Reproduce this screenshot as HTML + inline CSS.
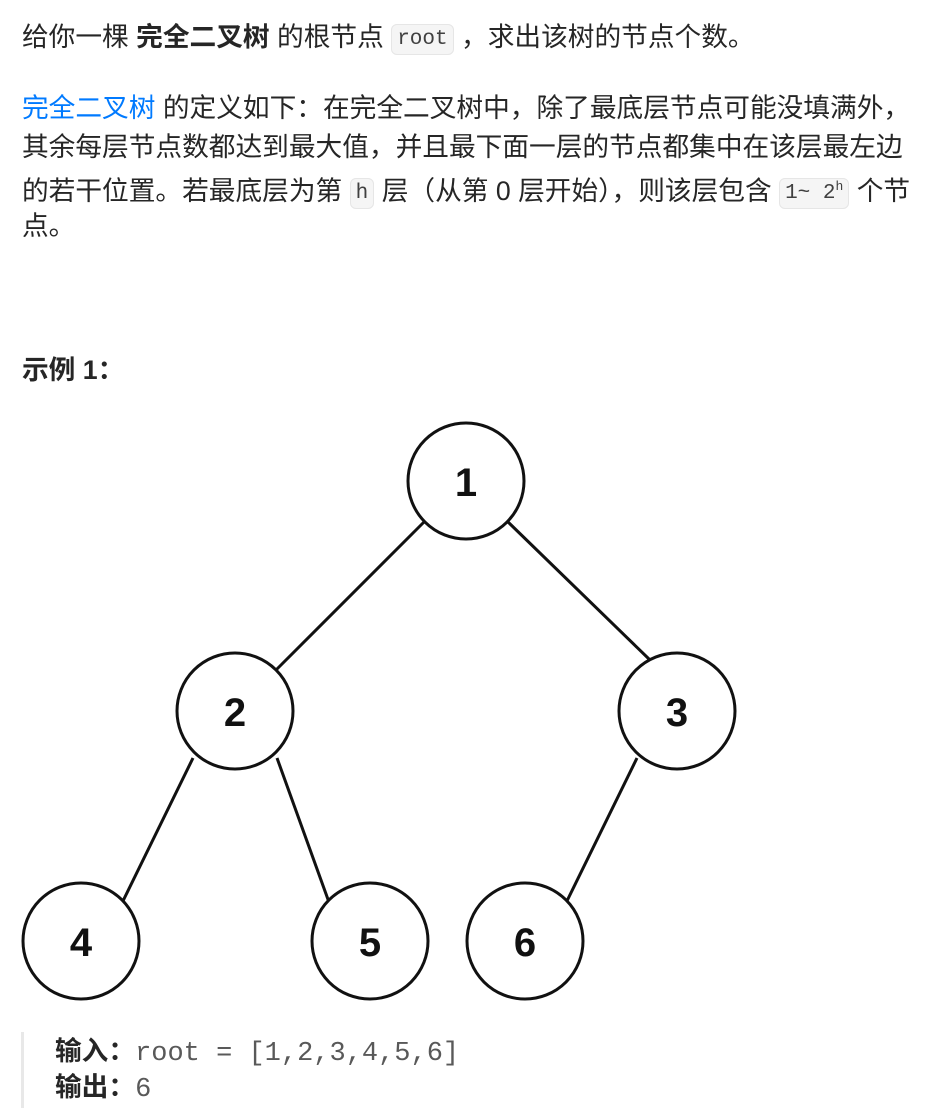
<!DOCTYPE html>
<html><head><meta charset="utf-8"><style>
body{margin:0;width:947px;height:1115px;background:#fff;position:relative;font-family:"Liberation Sans","Noto Sans CJK SC",sans-serif;color:#262626;font-size:26.7px;overflow:hidden}
.l{position:absolute;left:22px;white-space:nowrap;line-height:40px;height:40px}
code{font-family:"Liberation Mono",monospace;font-size:21px;background:#f5f5f5;border:1px solid #e6e6e6;border-radius:6px;padding:3px 5px;color:#404040;vertical-align:2px}
b{font-weight:bold;color:#262626}
.blue{color:#007aff}
</style></head><body>
<div class="l" style="top:17px">给你一棵 <b>完全二叉树</b> 的根节点 <code>root</code> ，求出该树的节点个数。</div>
<div class="l" style="top:88px"><span class="blue">完全二叉树</span> 的定义如下：在完全二叉树中，除了最底层节点可能没填满外，</div>
<div class="l" style="top:127px">其余每层节点数都达到最大值，并且最下面一层的节点都集中在该层最左边</div>
<div class="l" style="top:167px">的若干位置。若最底层为第 <code>h</code> 层（从第 0 层开始），则该层包含 <code>1~ 2<sup style="font-size:13px">h</sup></code> 个节</div>
<div class="l" style="top:206px">点。</div>
<div class="l" style="top:350px"><b>示例 1：</b></div>
<svg style="position:absolute;left:0;top:0" width="947" height="1115">
<g stroke="#111" stroke-width="3" fill="none">
<line x1="425" y1="521" x2="276" y2="670"/>
<line x1="507" y1="521" x2="650" y2="660"/>
<line x1="193" y1="758" x2="122" y2="903"/>
<line x1="277" y1="758" x2="330" y2="905"/>
<line x1="637" y1="758" x2="565" y2="905"/>
<circle cx="466" cy="481" r="58" fill="#fff"/>
<circle cx="235" cy="711" r="58" fill="#fff"/>
<circle cx="677" cy="711" r="58" fill="#fff"/>
<circle cx="81" cy="941" r="58" fill="#fff"/>
<circle cx="370" cy="941" r="58" fill="#fff"/>
<circle cx="525" cy="941" r="58" fill="#fff"/>
</g>
<g font-family="Liberation Sans, sans-serif" font-weight="bold" font-size="40" text-anchor="middle" fill="#111">
<text x="466" y="496">1</text>
<text x="235" y="726">2</text>
<text x="677" y="726">3</text>
<text x="81" y="956">4</text>
<text x="370" y="956">5</text>
<text x="525" y="956">6</text>
</g>
<rect x="21" y="1032" width="3" height="76" fill="#e8e8e8"/>
</svg>
<div class="l" style="left:55px;top:1031px"><b>输入：</b><span style="font-family:'Liberation Mono',monospace;color:#595959;font-size:27px">root = [1,2,3,4,5,6]</span></div>
<div class="l" style="left:55px;top:1067px"><b>输出：</b><span style="font-family:'Liberation Mono',monospace;color:#595959;font-size:27px">6</span></div>
</body></html>
